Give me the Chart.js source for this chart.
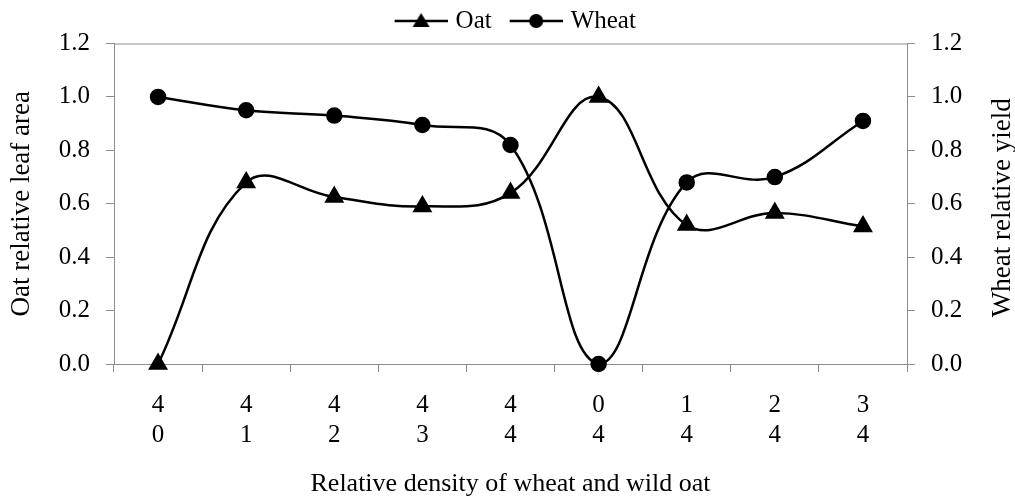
<!DOCTYPE html>
<html>
<head>
<meta charset="utf-8">
<script src="https://cdn.jsdelivr.net/npm/chart.js@4/dist/chart.umd.min.js"></script>
<style>
  html, body { margin: 0; padding: 0; background: #fff; }
  #wrap { width: 1015px; height: 500px; }
</style>
</head>
<body>
<div id="wrap"><canvas id="chart" width="1015" height="500"></canvas></div>
<script>
// wheat : wild oat density pairs (two-line tick labels)
const categories = [['4', '0'], ['4', '1'], ['4', '2'], ['4', '3'], ['4', '4'], ['0', '4'], ['1', '4'], ['2', '4'], ['3', '4']]
const oatLeafArea = [0, 0.68, 0.625, 0.59, 0.64, 1.0, 0.52, 0.565, 0.515]
const wheatYield = [1.0, 0.95, 0.93, 0.895, 0.82, 0, 0.68, 0.70, 0.91]
const yTicks = [0, 0.2, 0.4, 0.6, 0.8, 1.0, 1.2]

const xTitle = 'Relative density of wheat and wild oat'
const leftTitle = 'Oat relative leaf area'
const rightTitle = 'Wheat relative yield'

const FONT = '"Liberation Serif", "Times New Roman", serif'
const AXIS_GREY = '#8c8c8c'

// legend swatch: a short line with the marker in the middle
function legendSwatch(marker) {
    var c = document.createElement('canvas')
    c.width = 73
    c.height = 22
    var ctx = c.getContext('2d')
    ctx.strokeStyle = '#000'
    ctx.fillStyle = '#000'
    ctx.lineWidth = 2.5
    ctx.beginPath()
    ctx.moveTo(20, 11)
    ctx.lineTo(73, 11)
    ctx.stroke()
    ctx.beginPath()
    if (marker === 'triangle') {
        ctx.moveTo(46.5, 3)
        ctx.lineTo(55, 17)
        ctx.lineTo(38, 17)
        ctx.closePath()
    } else {
        ctx.arc(46.5, 11, 7, 0, Math.PI * 2)
    }
    ctx.fill()
    return c
}

// top edge of the plot box + right axis title (reads bottom-to-top like the left one)
const plotFrame = {
    id: 'plotFrame',
    afterDraw(chart) {
        var a = chart.chartArea
        var ctx = chart.ctx
        ctx.save()
        ctx.strokeStyle = AXIS_GREY
        ctx.lineWidth = 1
        ctx.beginPath()
        ctx.moveTo(a.left, a.top + 0.5)
        ctx.lineTo(a.right, a.top + 0.5)
        ctx.stroke()

        ctx.translate(1003, (a.top + a.bottom) / 2 + 4)
        ctx.rotate(-Math.PI / 2)
        ctx.fillStyle = '#000'
        ctx.font = '27px ' + FONT
        ctx.textAlign = 'center'
        ctx.textBaseline = 'middle'
        ctx.fillText(rightTitle, 0, 0)
        ctx.restore()
    }
}

function yAxis(position, title, width, titlePad) {
    return {
        type: 'linear',
        position: position,
        min: 0,
        max: 1.2,
        afterFit: function (scale) { scale.width = width },
        afterBuildTicks: function (scale) { scale.ticks = yTicks.map(v => ({ value: v })) },
        ticks: {
            padding: 16,
            color: '#000',
            font: { family: FONT, size: 25 },
            callback: v => v.toFixed(1)
        },
        grid: { drawOnChartArea: false, tickLength: 8, color: AXIS_GREY },
        border: { color: AXIS_GREY, width: 1 },
        title: {
            display: title !== null,
            text: title || '',
            color: '#000',
            padding: { top: titlePad, bottom: 0 },
            font: { family: FONT, size: 27, lineHeight: 1.2 }
        }
    }
}

new Chart(document.getElementById('chart'), {
    type: 'line',
    data: {
        labels: categories,
        datasets: [{
            label: 'Oat',
            data: oatLeafArea,
            yAxisID: 'y',
            borderColor: '#000',
            backgroundColor: '#000',
            borderWidth: 2.5,
            tension: 0.4,
            pointStyle: 'triangle',
            pointRadius: 9,
            pointHoverRadius: 9,
            clip: false
        }, {
            label: 'Wheat',
            data: wheatYield,
            yAxisID: 'y1',
            borderColor: '#000',
            backgroundColor: '#000',
            borderWidth: 2.5,
            tension: 0.4,
            pointStyle: 'circle',
            pointRadius: 7,
            pointHoverRadius: 7,
            clip: false
        }]
    },
    options: {
        responsive: false,
        animation: false,
        layout: { padding: { left: 0, top: 6, right: 0, bottom: 0 } },
        plugins: {
            tooltip: { enabled: false },
            legend: {
                position: 'top',
                labels: {
                    usePointStyle: true,
                    pointStyleWidth: 64,
                    padding: 2.5,
                    color: '#000',
                    font: { family: FONT, size: 25 },
                    generateLabels: function (chart) {
                        return chart.data.datasets.map(function (ds, i) {
                            return {
                                text: ds.label,
                                pointStyle: legendSwatch(ds.pointStyle),
                                fontColor: '#000',
                                lineWidth: 0,
                                datasetIndex: i
                            }
                        })
                    }
                }
            }
        },
        scales: {
            x: {
                type: 'category',
                offset: true,
                afterFit: function (scale) { scale.height = 136 },
                ticks: {
                    padding: 18,
                    color: '#000',
                    maxRotation: 0,
                    autoSkip: false,
                    font: { family: FONT, size: 25, lineHeight: 1.2 }
                },
                grid: { offset: true, drawOnChartArea: false, tickLength: 8, color: AXIS_GREY },
                border: { color: AXIS_GREY, width: 1 },
                title: {
                    display: true,
                    text: xTitle,
                    color: '#000',
                    padding: { top: 0, bottom: 0 },
                    font: { family: FONT, size: 26, lineHeight: 1.2 }
                }
            },
            y: yAxis('left', leftTitle, 114, 5.8),
            y1: yAxis('right', null, 108, 0)
        }
    },
    plugins: [plotFrame]
})
</script>
</body>
</html>
